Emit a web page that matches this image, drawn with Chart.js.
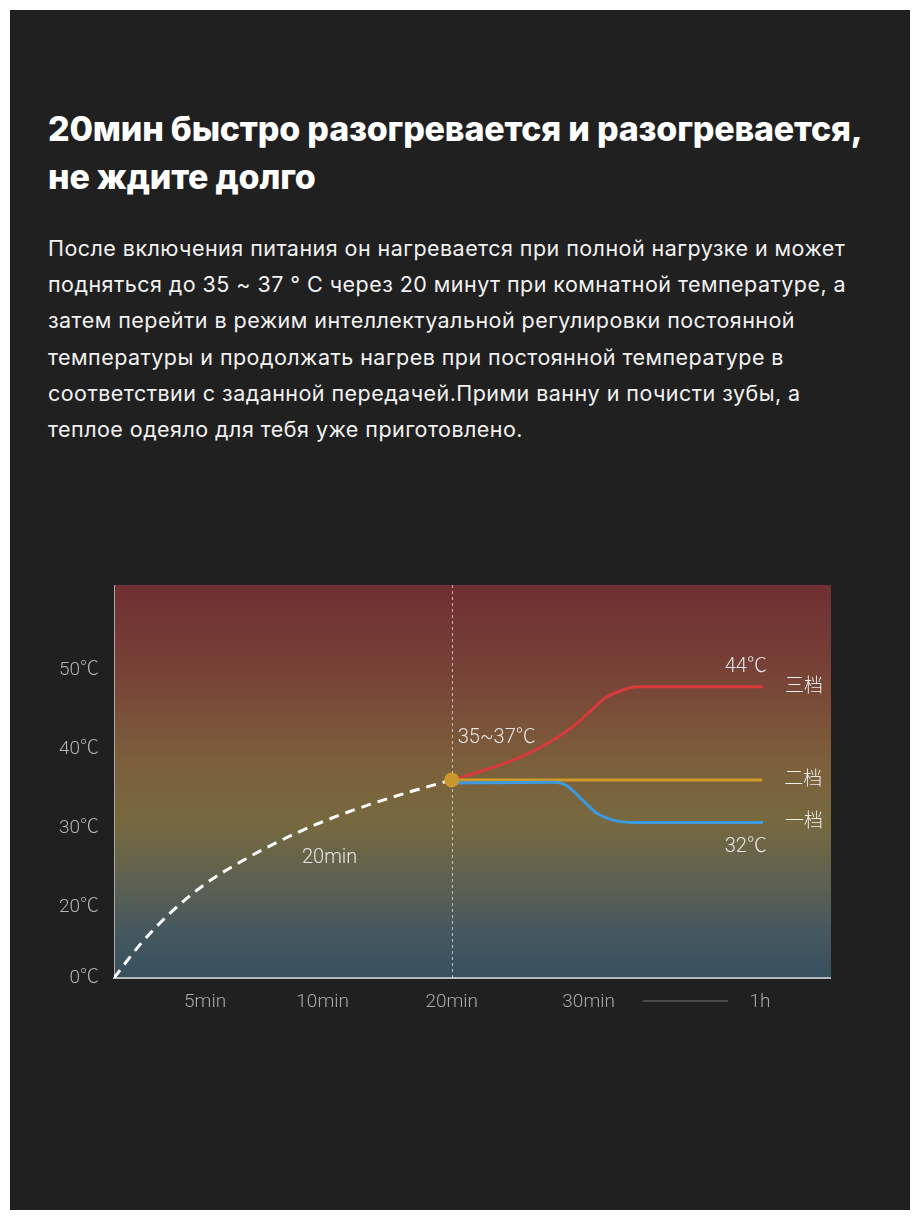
<!DOCTYPE html>
<html>
<head>
<meta charset="utf-8">
<script src="https://cdn.jsdelivr.net/npm/chart.js@4/dist/chart.umd.min.js"></script>
<style>
  body { margin: 0; background: #fff; width: 920px; height: 1220px; position: relative; }
  .panel { position: absolute; left: 10px; top: 10px; width: 900px; height: 1200px; background: #202020; }
  h1 {
    position: absolute; left: 48px; top: 105px; margin: 0;
    font-family: Inter, "Noto Sans", sans-serif; font-weight: 800;
    font-size: 34px; line-height: 48px; color: #fff; letter-spacing: -0.2px;
  }
  p.lead {
    position: absolute; left: 48px; top: 230px; margin: 0;
    font-family: Inter, "Noto Sans", sans-serif; font-weight: 400;
    font-size: 21.5px; line-height: 36.2px; color: #f2f2f2; white-space: nowrap;
    letter-spacing: 0.45px;
  }
  .chartBox { position: absolute; left: 20px; top: 585px; width: 811px; height: 455px; }
</style>
</head>
<body>
<div class="panel"></div>
<h1>20мин быстро разогревается и разогревается,<br>не ждите долго</h1>
<p class="lead">После включения питания он нагревается при полной нагрузке и может<br>подняться до 35 ~ 37 ° C через 20 минут при комнатной температуре, а<br>затем перейти в режим интеллектуальной регулировки постоянной<br>температуры и продолжать нагрев при постоянной температуре в<br>соответствии с заданной передачей.Прими ванну и почисти зубы, а<br>теплое одеяло для тебя уже приготовлено.</p>
<div class="chartBox"><canvas id="heatChart"></canvas></div>
<script>
"use strict";

// schematic axes: the picture's axes are not to scale, so ticks sit where the picture puts them
const timeTickLabels = ["5min", "10min", "20min", "30min", "1h"];
const timeTickPos = [12.7, 29.1, 47.1, 66.2, 90.1];
const tempTickLabels = ["0℃", "20℃", "30℃", "40℃", "50℃"];
const tempTickPos = [11, 20, 30, 40, 50];

// heat-up curve (first 20 min)
const heatUpX = [0, 3.6, 7.8, 12.7, 17.6, 23.2, 29.1, 35.7, 41.3, 47.1];
const heatUpY = [11, 15.2, 19.2, 22.9, 25.7, 28.4, 30.8, 33.0, 34.6, 36.1];

// gear 3 / 2 / 1 after reaching 35~37
const gear3X = [47.1, 51.5, 56.2, 60.8, 64.5, 66.4, 68.7, 71.0, 72.9, 90.5];
const gear3Y = [36.1, 37.3, 38.8, 40.9, 43.2, 44.8, 46.6, 47.5, 47.9, 47.9];
const gear2X = [47.1, 90.4];
const gear2Y = [36.1, 36.1];
const gear1X = [47.1, 61.3, 63.1, 65.5, 67.3, 69.6, 72.4, 90.5];
const gear1Y = [35.7, 35.8, 35.4, 33.4, 31.9, 31.0, 30.7, 30.7];

const reachPoint = { x: 47.1, y: 36.1 };
const gearNames = ["三档", "二档", "一档"];

const labelFont = '"Roboto", "Noto Sans CJK SC", sans-serif';

function toPoints(xs, ys) {
  return xs.map((x, i) => ({ x: x, y: ys[i] }));
}

var backgroundPlugin = {
  id: "bg",
  beforeDraw(chart) {
    const { ctx, chartArea: a } = chart;
    const g = ctx.createLinearGradient(0, a.top, 0, a.bottom);
    g.addColorStop(0, "#6f2e32");
    g.addColorStop(0.25, "#784537");
    g.addColorStop(0.45, "#7c5f3b");
    g.addColorStop(0.6, "#77693f");
    g.addColorStop(0.75, "#5e6150");
    g.addColorStop(0.88, "#46585f");
    g.addColorStop(1, "#36505f");
    ctx.save();
    ctx.fillStyle = g;
    ctx.fillRect(a.left, a.top, a.right - a.left, a.bottom - a.top);
    ctx.restore();
  },
  beforeDatasetsDraw(chart) {
    // dotted marker at 20min
    const { ctx, chartArea: a } = chart;
    const x = Math.round(chart.scales.x.getPixelForValue(reachPoint.x)) + 0.5;
    ctx.save();
    ctx.strokeStyle = "rgba(225,225,225,0.75)";
    ctx.lineWidth = 1;
    ctx.setLineDash([3, 3]);
    ctx.beginPath();
    ctx.moveTo(x, a.top);
    ctx.lineTo(x, a.bottom);
    ctx.stroke();
    ctx.restore();
  },
};

var labelPlugin = {
  id: "labels",
  afterDatasetsDraw(chart) {
    const { ctx } = chart;
    const xs = chart.scales.x;
    const ys = chart.scales.y;
    const px = (v) => xs.getPixelForValue(v);
    const py = (v) => ys.getPixelForValue(v);
    ctx.save();
    ctx.textBaseline = "middle";
    ctx.font = "300 20px " + labelFont;
    ctx.fillStyle = "#e4e4e4";

    ctx.textAlign = "left";
    ctx.fillText("35~37℃", px(reachPoint.x) + 6, py(reachPoint.y) - 42);

    const redEnd = { x: px(gear3X[gear3X.length - 1]), y: py(gear3Y[gear3Y.length - 1]) };
    const yelEnd = { x: px(gear2X[gear2X.length - 1]), y: py(gear2Y[gear2Y.length - 1]) };
    const bluEnd = { x: px(gear1X[gear1X.length - 1]), y: py(gear1Y[gear1Y.length - 1]) };

    ctx.textAlign = "right";
    ctx.fillText("44℃", redEnd.x + 4, redEnd.y - 20);
    ctx.fillText("32℃", bluEnd.x + 4, bluEnd.y + 24);

    ctx.textAlign = "center";
    ctx.fillText("20min", px(timeTickPos[1]) + 7, py(26.2));

    ctx.textAlign = "left";
    ctx.font = "300 19px " + labelFont;
    ctx.fillStyle = "#eeeeee";
    [redEnd, yelEnd, bluEnd].forEach((p, i) => {
      ctx.fillText(gearNames[i], p.x + 22, p.y);
    });
    ctx.restore();
  },
  afterDraw(chart) {
    // break mark between 30min and 1h
    const { ctx } = chart;
    const xs = chart.scales.x;
    const x0 = xs.getPixelForValue(timeTickPos[3]) + 54;
    const x1 = xs.getPixelForValue(timeTickPos[4]) - 32;
    const y = chart.chartArea.bottom + 23;
    ctx.save();
    ctx.strokeStyle = "#4a4a4a";
    ctx.lineWidth = 2;
    ctx.beginPath();
    ctx.moveTo(x0, y);
    ctx.lineTo(x1, y);
    ctx.stroke();
    ctx.restore();
  },
};

var lineBase = {
  showLine: true,
  pointRadius: 0,
  borderWidth: 3,
  fill: false,
  cubicInterpolationMode: "monotone",
};

var heatChart = new Chart(document.getElementById("heatChart").getContext("2d"), {
  type: "scatter",
  data: {
    datasets: [
      { ...lineBase, label: "heat", data: toPoints(heatUpX, heatUpY), borderColor: "#ffffff", borderDash: [10, 7], order: 4 },
      { ...lineBase, label: gearNames[0], data: toPoints(gear3X, gear3Y), borderColor: "#d83a3c", order: 3 },
      { ...lineBase, label: gearNames[1], data: toPoints(gear2X, gear2Y), borderColor: "#d19b2a", order: 2 },
      { ...lineBase, label: gearNames[2], data: toPoints(gear1X, gear1Y), borderColor: "#3b9ae0", order: 1 },
      {
        label: "reach",
        data: [reachPoint],
        pointRadius: 7.5,
        pointBackgroundColor: "#c9982c",
        pointBorderWidth: 0,
        order: 0,
      },
    ],
  },
  options: {
    responsive: true,
    maintainAspectRatio: false,
    animation: false,
    layout: { padding: 0, autoPadding: false },
    plugins: {
      legend: { display: false },
      tooltip: { enabled: false },
    },
    scales: {
      x: {
        type: "linear",
        min: 0,
        max: 100,
        grid: { display: false, drawTicks: false },
        border: { display: true, color: "#b9b9b9", width: 2 },
        afterBuildTicks: (s) => { s.ticks = timeTickPos.map((v) => ({ value: v })); },
        afterFit: (s) => { s.height = 62; s.paddingLeft = 0; s.paddingRight = 0; },
        ticks: {
          padding: 13,
          maxRotation: 0,
          autoSkip: false,
          color: "#a9a9a9",
          font: { family: labelFont, size: 19, weight: 300 },
          callback: (v, i) => timeTickLabels[i],
        },
      },
      y: {
        type: "linear",
        min: 11,
        max: 60.8,
        grid: { display: false, drawTicks: false },
        border: { display: true, color: "#a9a9a9", width: 1 },
        afterBuildTicks: (s) => { s.ticks = tempTickPos.map((v) => ({ value: v })); },
        afterFit: (s) => { s.width = 94; s.paddingTop = 0; s.paddingBottom = 0; },
        ticks: {
          padding: 15,
          autoSkip: false,
          color: "#b4b4b4",
          font: { family: labelFont, size: 19, weight: 300 },
          callback: (v, i) => tempTickLabels[i],
        },
      },
    },
  },
  plugins: [backgroundPlugin, labelPlugin],
});
</script>
</body>
</html>
